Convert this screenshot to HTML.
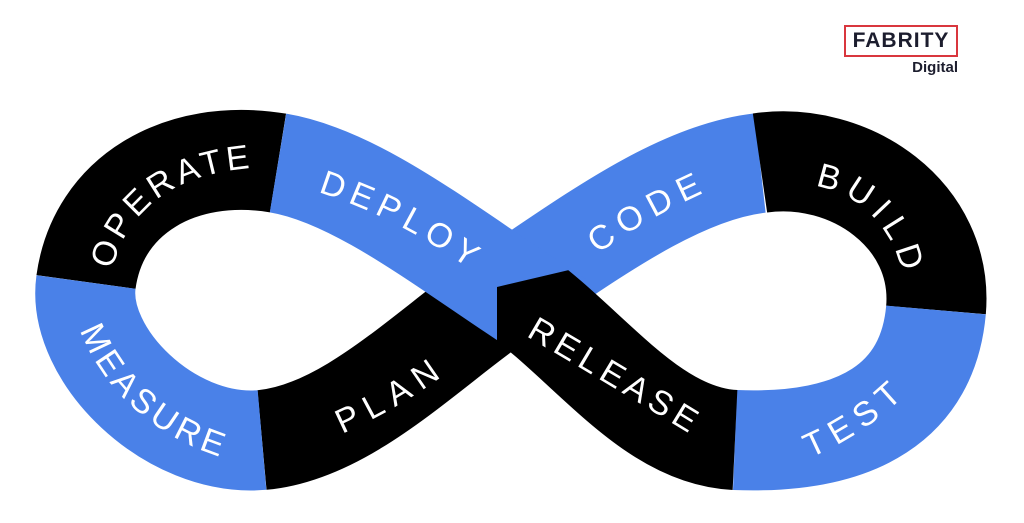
<!DOCTYPE html>
<html><head><meta charset="utf-8"><style>
html,body{margin:0;padding:0;background:#fff;}
body{width:1024px;height:523px;overflow:hidden;position:relative;font-family:"Liberation Sans",sans-serif;}
.logo{position:absolute;left:844px;top:25px;width:110px;height:28px;border:2px solid #d9363e;box-sizing:content-box;}
.logo span{position:absolute;left:0;right:0;top:2px;text-align:center;font-size:21px;font-weight:bold;color:#1c1d2e;letter-spacing:1px;}
.dig{position:absolute;right:66px;top:59px;font-size:15px;font-weight:bold;color:#1c1d2e;}
svg text{font-family:"Liberation Sans",sans-serif;fill:#fff;font-size:34px;}
</style></head><body>
<div class="logo"><span>FABRITY</span></div>
<div class="dig">Digital</div>
<svg width="1024" height="523" viewBox="0 0 1024 523" style="position:absolute;left:0;top:0">
<defs>
<clipPath id="rel"><polygon points="497,287 620,258 1024,258 1024,523 497,523"/></clipPath>
<path id="tOP" d="M112,270 C 128,208 175,174 252,168"/>
<path id="tDE" d="M318,192 Q 400,218 478,275"/>
<path id="tCO" d="M598,254 Q 650,215 722,185"/>
<path id="tBU" d="M815,186 C 860,193 892,228 902,272"/>
<path id="tRE" d="M526,336 Q 605,382 690,434"/>
<path id="tTE" d="M810,458 Q 870,432 912,388"/>
<path id="tME" d="M80,330 C 104,392 158,442 238,462"/>
<path id="tPL" d="M342,434 Q 400,408 448,372"/>
</defs>
<g fill="none" stroke-width="100" stroke-linecap="butt">
<path d="M262,440 C 350,432 430,345 512,290 L 540,271" stroke="#000"/>
<path d="M490,305 L512,290 C 594,235 680,172 760,163" stroke="#4a81e8"/>
<path d="M278,163 C 180,147 98,195 86,282" stroke="#000"/>
<path d="M86,282 C 76,355 170,448 262,440" stroke="#4a81e8"/>
<path d="M760,163 C 850,150 944,215 936,310" stroke="#000"/>
<path d="M936,310 C 928,400 860,445 735,440" stroke="#4a81e8"/>
<path d="M278,163 C 350,175 430,235 512,290 L 560,322" stroke="#4a81e8"/>
<path d="M735,440 C 650,436 590,345 512,290 L 470,262" stroke="#000" clip-path="url(#rel)"/>
</g>
<text><textPath href="#tOP" textLength="185" lengthAdjust="spacing">OPERATE</textPath></text>
<text><textPath href="#tDE" textLength="170" lengthAdjust="spacing">DEPLOY</textPath></text>
<text><textPath href="#tCO" textLength="122" lengthAdjust="spacing">CODE</textPath></text>
<text><textPath href="#tBU" textLength="130" lengthAdjust="spacing">BUILD</textPath></text>
<text><textPath href="#tRE" textLength="190" lengthAdjust="spacing">RELEASE</textPath></text>
<text><textPath href="#tTE" textLength="112" lengthAdjust="spacing">TEST</textPath></text>
<text><textPath href="#tME" textLength="195" lengthAdjust="spacing">MEASURE</textPath></text>
<text><textPath href="#tPL" textLength="115" lengthAdjust="spacing">PLAN</textPath></text>
</svg>
</body></html>
